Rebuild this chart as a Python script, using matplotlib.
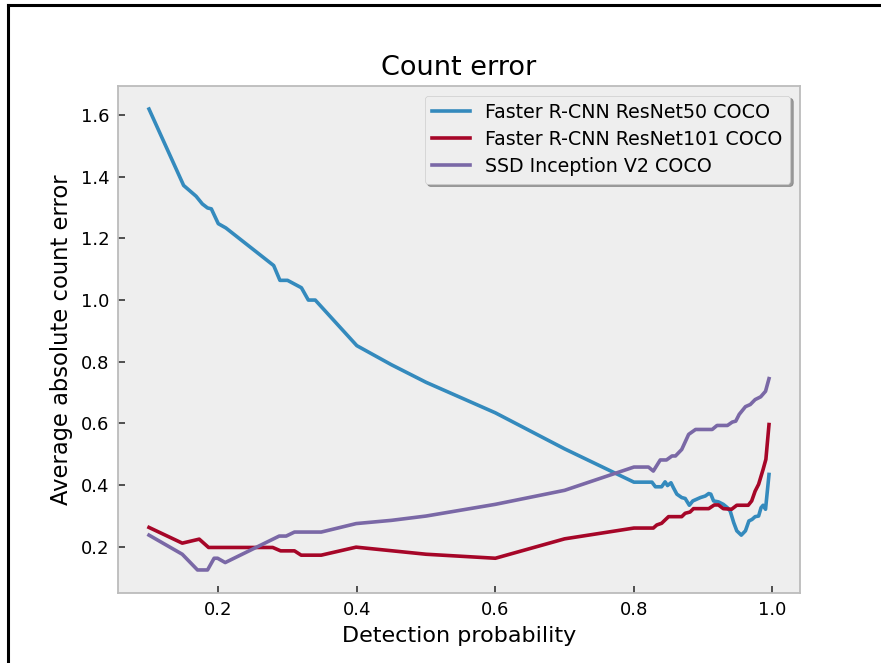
import matplotlib
matplotlib.use("Agg")
import matplotlib.pyplot as plt
from matplotlib.lines import Line2D

# Detection probability thresholds and mean absolute count error per model
x_r50 = [0.10, 0.15, 0.168, 0.177, 0.1845, 0.190, 0.20, 0.211, 0.28, 0.289, 0.30,
         0.32, 0.33, 0.34, 0.40, 0.45, 0.50, 0.60, 0.70, 0.80, 0.826, 0.831, 0.840,
         0.845, 0.8485, 0.8535, 0.857, 0.862, 0.869, 0.874, 0.880, 0.885, 0.896,
         0.903, 0.908, 0.911, 0.915, 0.922, 0.929, 0.935, 0.939, 0.944, 0.9485,
         0.955, 0.961, 0.966, 0.9705, 0.975, 0.980, 0.9835, 0.9865, 0.990, 0.995]
y_r50 = [1.62, 1.372, 1.337, 1.312, 1.299, 1.296, 1.248, 1.234, 1.112, 1.064, 1.064,
         1.04, 1.0, 1.0, 0.852, 0.79, 0.733, 0.634, 0.517, 0.409, 0.409, 0.394, 0.394,
         0.41, 0.398, 0.407, 0.391, 0.370, 0.359, 0.356, 0.334, 0.348, 0.359,
         0.364, 0.372, 0.370, 0.348, 0.345, 0.337, 0.326, 0.315, 0.278, 0.251,
         0.237, 0.251, 0.283, 0.288, 0.297, 0.299, 0.326, 0.334, 0.321, 0.434]

x_r101 = [0.10, 0.148, 0.1725, 0.186, 0.2786, 0.290, 0.310, 0.3196, 0.3486, 0.399,
          0.50, 0.60, 0.70, 0.80, 0.828, 0.833, 0.840, 0.850, 0.869, 0.874, 0.881,
          0.886, 0.908, 0.916, 0.922, 0.929, 0.941, 0.9485, 0.965, 0.970, 0.975,
          0.980, 0.9865, 0.9905, 0.995]
y_r101 = [0.262, 0.211, 0.224, 0.197, 0.197, 0.186, 0.186, 0.172, 0.172, 0.198,
          0.175, 0.162, 0.225, 0.260, 0.260, 0.270, 0.2755, 0.297, 0.297, 0.308, 0.312,
          0.323, 0.323, 0.335, 0.335, 0.323, 0.321, 0.334, 0.334, 0.348, 0.380,
          0.402, 0.4505, 0.483, 0.596]

x_ssd = [0.10, 0.148, 0.170, 0.1845, 0.194, 0.199, 0.210, 0.288, 0.298, 0.310,
         0.3486, 0.399, 0.45, 0.50, 0.60, 0.70, 0.80, 0.821, 0.828, 0.838, 0.847,
         0.855, 0.860, 0.869, 0.879, 0.889, 0.913, 0.920, 0.935, 0.942, 0.947,
         0.952, 0.961, 0.968, 0.975, 0.983, 0.990, 0.995]
y_ssd = [0.237, 0.175, 0.124, 0.124, 0.162, 0.162, 0.148, 0.234, 0.234, 0.247,
         0.247, 0.2745, 0.285, 0.299, 0.337, 0.3825, 0.458, 0.458, 0.445, 0.481, 0.481,
         0.494, 0.494, 0.515, 0.564, 0.580, 0.580, 0.593, 0.593, 0.604, 0.607,
         0.629, 0.654, 0.661, 0.677, 0.686, 0.704, 0.745]

labels = ["Faster R-CNN ResNet50 COCO", "Faster R-CNN ResNet101 COCO",
          "SSD Inception V2 COCO"]

plt.style.use("bmh")

fig = plt.figure(figsize=(8.81, 6.63), dpi=100)
ax = fig.add_axes([118 / 881, 1 - 593 / 663, (800 - 118) / 881, (593 - 86) / 663])
ax.grid(False)
ax.set_facecolor("#eeeeee")
for s in ax.spines.values():
    s.set_edgecolor("#bcbcbc")
    s.set_linewidth(1.3)

lw = 2.6
ax.plot(x_r50, y_r50, color="#348ABD", lw=lw, label=labels[0])
ax.plot(x_r101, y_r101, color="#A60628", lw=lw, label=labels[1])
ax.plot(x_ssd, y_ssd, color="#7A68A6", lw=lw, label=labels[2])

ax.set_xticks([0.2, 0.4, 0.6, 0.8, 1.0])
ax.set_yticks([0.2, 0.4, 0.6, 0.8, 1.0, 1.2, 1.4, 1.6])
ax.tick_params(direction="in", length=5, width=1.2, color="#333333", pad=6,
               labelsize=13, labelcolor="black", top=False, right=False)
ax.set_xlabel("Detection probability", fontsize=16, color="black", labelpad=5)
ax.set_ylabel("Average absolute count error", fontsize=16.3, color="black", labelpad=6)
ax.set_title("Count error", fontsize=19.5, color="black", pad=8)

leg = ax.legend(loc="upper right", fontsize=13.7, shadow=True, fancybox=True,
                framealpha=1, facecolor="#eeeeee", edgecolor="#cccccc",
                labelspacing=0.42, borderaxespad=0.5)

# Outer frame along the left and top of the figure
fig.add_artist(Line2D([7.5 / 881, 7.5 / 881], [0, 1 - 5.3 / 663],
                      transform=fig.transFigure, color="black", lw=2.2))
fig.add_artist(Line2D([7.5 / 881, 1], [1 - 5.3 / 663, 1 - 5.3 / 663],
                      transform=fig.transFigure, color="black", lw=2.2))

fig.savefig("out.png", dpi=100, facecolor="white")
